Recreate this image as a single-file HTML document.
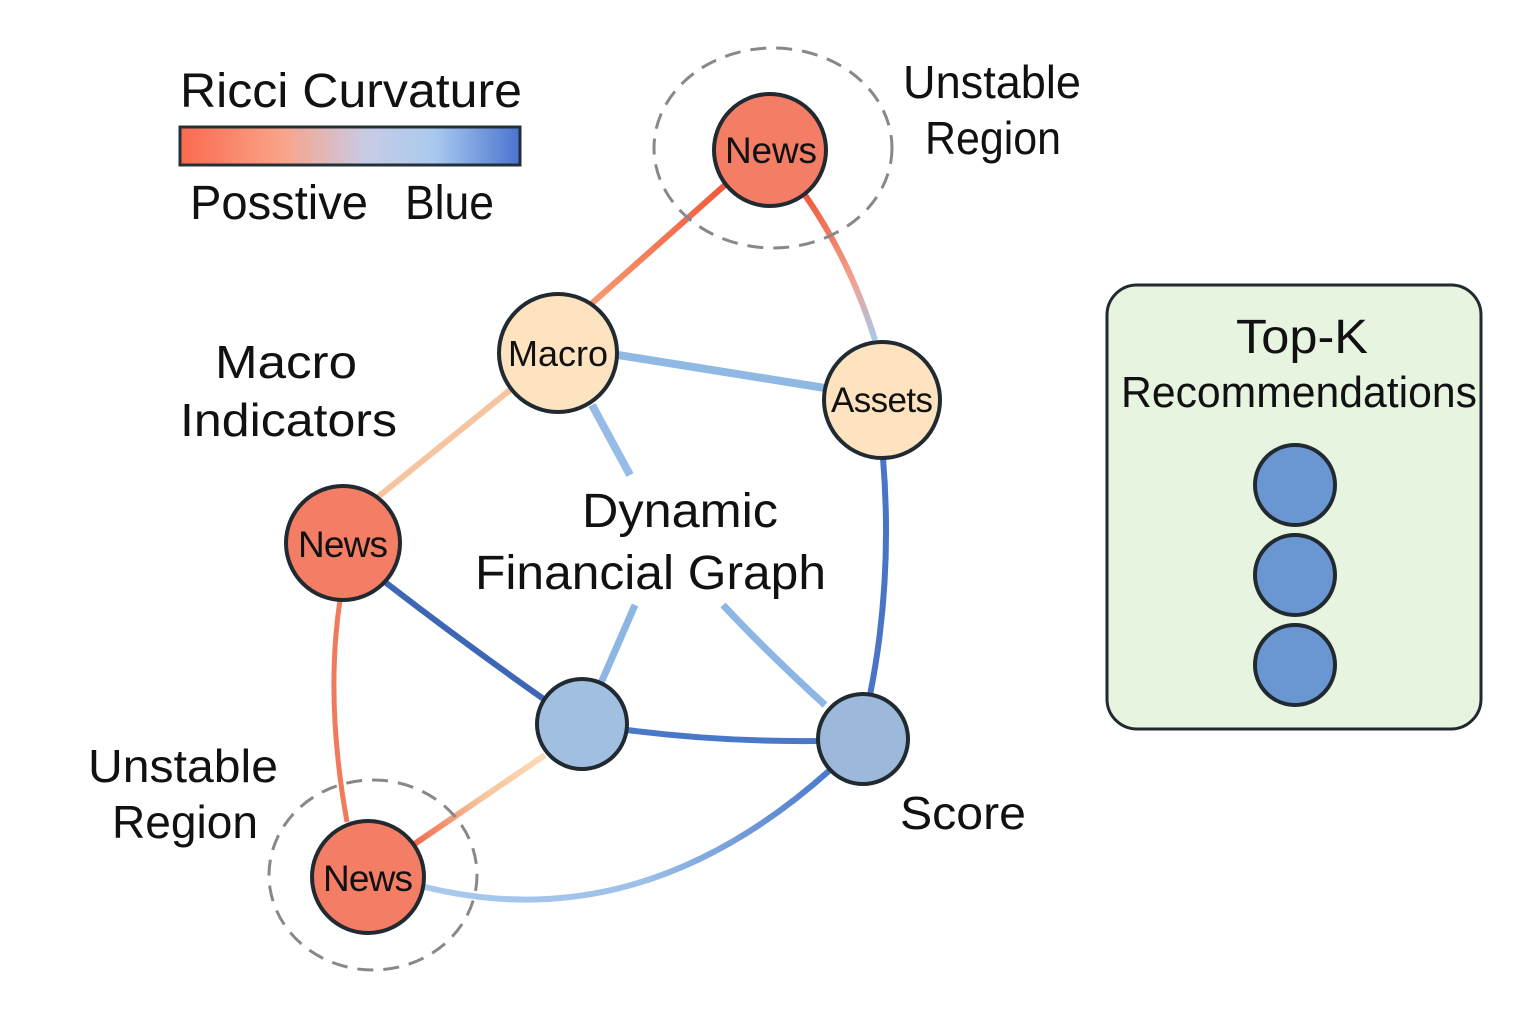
<!DOCTYPE html>
<html><head><meta charset="utf-8"><style>html,body{margin:0;padding:0;background:#fff}svg{display:block}text{font-family:"Liberation Sans","DejaVu Sans",sans-serif;fill:#111}</style></head><body>
<svg width="1536" height="1024" viewBox="0 0 1536 1024" xmlns="http://www.w3.org/2000/svg">
<defs>
<linearGradient id="bar" x1="0" x2="1"><stop offset="0" stop-color="#fb6a4e"/><stop offset="0.3" stop-color="#f9a388"/><stop offset="0.55" stop-color="#c8cbe6"/><stop offset="0.75" stop-color="#a9c9ee"/><stop offset="1" stop-color="#4a74d0"/></linearGradient>
<linearGradient id="g1" gradientUnits="userSpaceOnUse" x1="805" y1="195" x2="875" y2="340"><stop offset="0" stop-color="#f05a3c"/><stop offset="0.6" stop-color="#f3a08c"/><stop offset="1" stop-color="#a9c8ec"/></linearGradient>
<linearGradient id="g2" gradientUnits="userSpaceOnUse" x1="545" y1="755" x2="413" y2="845"><stop offset="0" stop-color="#fbdcb8"/><stop offset="0.5" stop-color="#f7c29a"/><stop offset="1" stop-color="#f26a48"/></linearGradient>
<linearGradient id="g3" gradientUnits="userSpaceOnUse" x1="425" y1="887" x2="830" y2="770"><stop offset="0" stop-color="#a9c9ee"/><stop offset="0.5" stop-color="#9cc0ea"/><stop offset="1" stop-color="#4a78cc"/></linearGradient>
<linearGradient id="g4" gradientUnits="userSpaceOnUse" x1="725" y1="185" x2="590" y2="305"><stop offset="0" stop-color="#f0583a"/><stop offset="1" stop-color="#f79a72"/></linearGradient>
</defs>
<text x="180" y="107" font-size="48" textLength="342" lengthAdjust="spacingAndGlyphs">Ricci Curvature</text>
<rect x="180" y="127" width="340" height="38" fill="url(#bar)" stroke="#243038" stroke-width="3"/>
<text x="190" y="219" font-size="48" textLength="178" lengthAdjust="spacingAndGlyphs">Posstive</text>
<text x="405" y="219" font-size="48" textLength="89" lengthAdjust="spacingAndGlyphs">Blue</text>
<g fill="none" stroke-linecap="butt">
<path d="M725 185 L590 305" stroke="url(#g4)" stroke-width="6"/>
<path d="M805 195 Q850 260 875 340" stroke="url(#g1)" stroke-width="6"/>
<path d="M618 355 L825 388" stroke="#8fb8e2" stroke-width="8"/>
<path d="M592 405 L630 475" stroke="#94bce6" stroke-width="8"/>
<path d="M510 390 L378 497" stroke="#f7c4a0" stroke-width="6"/>
<path d="M385 582 Q460 640 545 700" stroke="#3d66b6" stroke-width="6"/>
<path d="M340 600 Q325 700 347 822" stroke="#f07a5c" stroke-width="5"/>
<path d="M601 683 L635 605" stroke="#8cb6e4" stroke-width="7"/>
<path d="M825 705 Q770 655 723 605" stroke="#8cb6e4" stroke-width="7"/>
<path d="M883 458 Q893 580 870 695" stroke="#4a74c6" stroke-width="6"/>
<path d="M627 730 Q720 742 818 741" stroke="#4a78c8" stroke-width="6"/>
<path d="M545 755 L413 845" stroke="url(#g2)" stroke-width="6"/>
<path d="M425 887 Q640 940 830 770" stroke="url(#g3)" stroke-width="6"/>
</g>
<ellipse cx="773" cy="148" rx="119" ry="100" fill="none" stroke="#888" stroke-width="3" stroke-dasharray="16 10"/>
<ellipse cx="373" cy="875" rx="104" ry="95" fill="none" stroke="#888" stroke-width="3" stroke-dasharray="16 10"/>
<g stroke="#202a30" stroke-width="4">
<circle cx="770" cy="150" r="56" fill="#f47d66"/>
<circle cx="558" cy="353" r="59" fill="#fde3c0"/>
<circle cx="882" cy="400" r="58" fill="#fde3c0"/>
<circle cx="343" cy="543" r="57" fill="#f47d66"/>
<circle cx="582" cy="724" r="45" fill="#a1bfe0"/>
<circle cx="863" cy="739" r="45" fill="#9cb8da"/>
<circle cx="368" cy="877" r="56" fill="#f47d66"/>
</g>
<g font-size="37" text-anchor="middle" lengthAdjust="spacingAndGlyphs">
<text x="771" y="163" textLength="92">News</text>
<text x="558" y="366" font-size="36" textLength="100">Macro</text>
<text x="882" y="412" font-size="35" textLength="102">Assets</text>
<text x="343" y="557" textLength="90">News</text>
<text x="368" y="891" textLength="90">News</text>
</g>
<g font-size="46">
<text x="903" y="98" textLength="178" lengthAdjust="spacingAndGlyphs">Unstable</text>
<text x="925" y="154" textLength="136" lengthAdjust="spacingAndGlyphs">Region</text>
<text x="215" y="378" textLength="142" lengthAdjust="spacingAndGlyphs">Macro</text>
<text x="180" y="436" textLength="217" lengthAdjust="spacingAndGlyphs">Indicators</text>
<text x="582" y="527" font-size="48" textLength="196" lengthAdjust="spacingAndGlyphs">Dynamic</text>
<text x="475" y="589" font-size="48" textLength="351" lengthAdjust="spacingAndGlyphs">Financial Graph</text>
<text x="900" y="829" textLength="126" lengthAdjust="spacingAndGlyphs">Score</text>
<text x="88" y="782" textLength="190" lengthAdjust="spacingAndGlyphs">Unstable</text>
<text x="112" y="838" textLength="146" lengthAdjust="spacingAndGlyphs">Region</text>
</g>
<rect x="1107" y="285" width="374" height="444" rx="30" fill="#e7f4e0" stroke="#202a30" stroke-width="3"/>
<text x="1236" y="353" font-size="48" textLength="132" lengthAdjust="spacingAndGlyphs">Top-K</text>
<text x="1121" y="407" font-size="44" textLength="356" lengthAdjust="spacingAndGlyphs">Recommendations</text>
<g fill="#6a97d2" stroke="#202a30" stroke-width="4">
<circle cx="1295" cy="485" r="40"/>
<circle cx="1295" cy="575" r="40"/>
<circle cx="1295" cy="665" r="40"/>
</g>
</svg>
</body></html>
